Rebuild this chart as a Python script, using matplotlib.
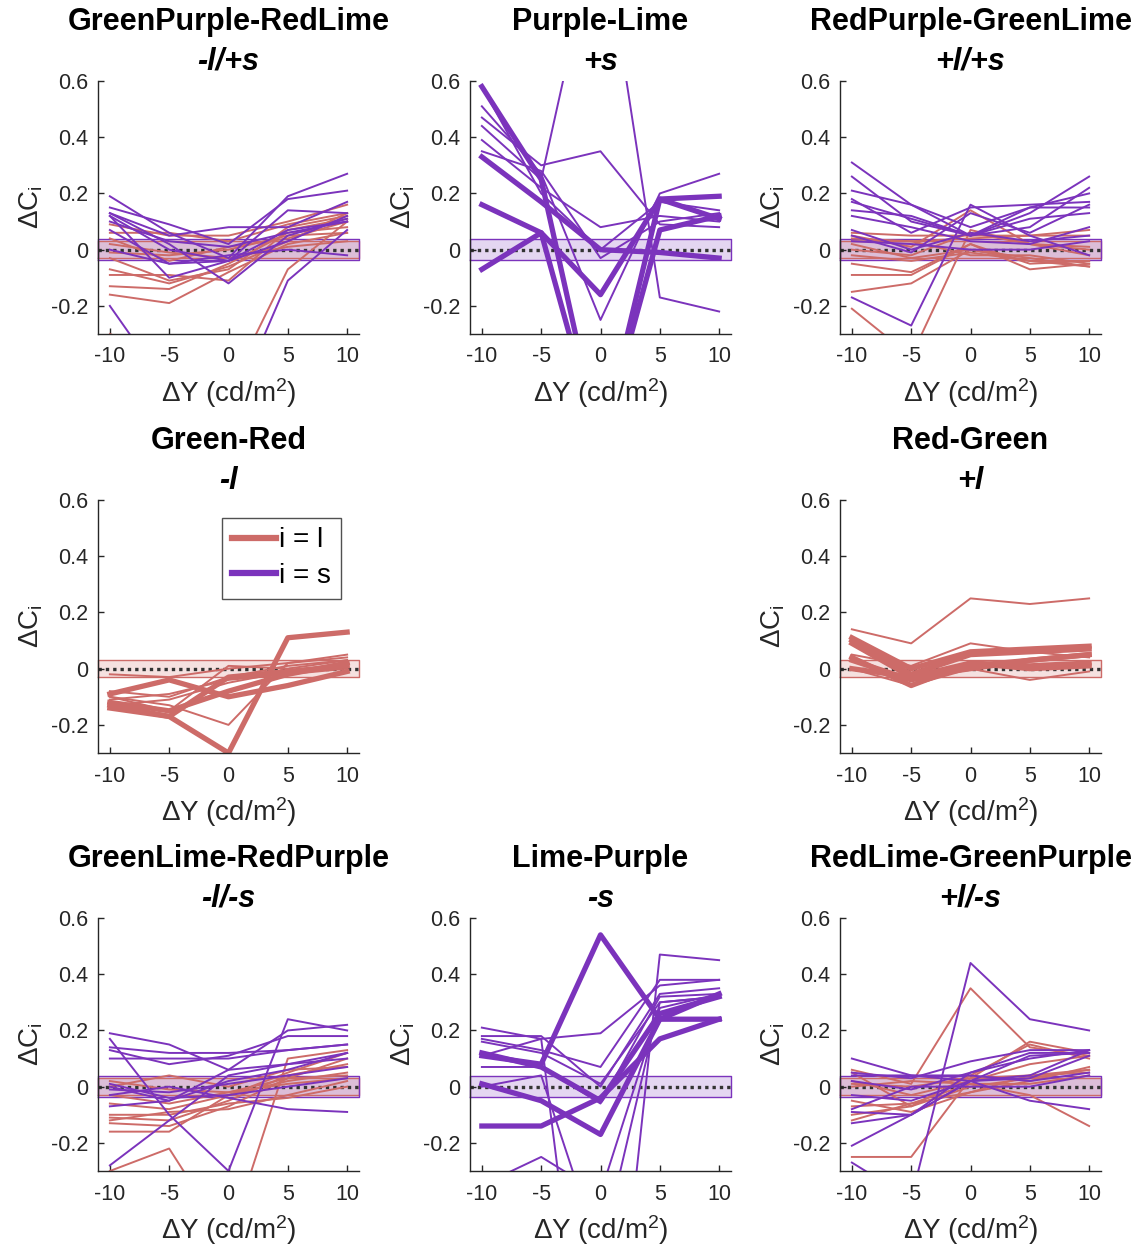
import numpy as np
import matplotlib
matplotlib.use("Agg")
import matplotlib.pyplot as plt

plt.rcParams['font.family'] = ['Liberation Sans', 'DejaVu Sans']
plt.rcParams['mathtext.fontset'] = 'custom'
plt.rcParams['mathtext.rm'] = 'Liberation Sans'
plt.rcParams['mathtext.it'] = 'Liberation Sans:italic'
plt.rcParams['axes.unicode_minus'] = False

# luminance steps
dY = [-10, -5, 0, 5, 10]
yticks = [-0.2, 0, 0.2, 0.4, 0.6]
ytick_labels = ['-0.2', '0', '0.2', '0.4', '0.6']

titles = ['GreenPurple-RedLime', 'Purple-Lime', 'RedPurple-GreenLime',
          'Green-Red', None, 'Red-Green',
          'GreenLime-RedPurple', 'Lime-Purple', 'RedLime-GreenPurple']
subtitles = ['-l/+s', '+s', '+l/+s', '-l', None, '+l', '-l/-s', '-s', '+l/-s']

# ---- panel data: thin / thick lines, l (red) and s (purple) ----
# GreenPurple-RedLime
p1_s_thin = [[0.19, 0.06, -0.03, 0.19, 0.27], [0.15, 0.09, 0.02, 0.18, 0.21],
             [0.13, 0.05, 0.08, 0.08, 0.17], [0.12, -0.10, -0.04, 0.14, 0.13],
             [0.13, 0.02, -0.12, 0.05, 0.11], [0.07, -0.05, -0.04, 0.07, 0.10],
             [0.00, -0.05, -0.02, 0.00, -0.02], [-0.20, -0.50, -0.60, -0.11, 0.07],
             [0.12, 0.00, -0.04, 0.03, 0.12], [0.10, 0.03, 0.01, 0.06, 0.10]]
p1_l_thin = [[0.09, 0.05, 0.05, 0.10, 0.16], [0.06, 0.06, 0.03, 0.09, 0.13],
             [-0.03, -0.11, -0.07, 0.08, 0.12], [-0.07, -0.12, -0.06, 0.03, 0.13],
             [-0.09, -0.09, -0.11, 0.07, 0.11], [-0.13, -0.14, -0.05, 0.06, 0.08],
             [-0.16, -0.19, -0.08, 0.02, 0.06], [-0.30, -0.38, -0.50, -0.07, 0.10],
             [0.02, -0.01, -0.03, 0.01, 0.03], [-0.01, -0.02, 0.00, 0.05, 0.06],
             [0.04, -0.04, 0.01, 0.04, 0.10]]

# Purple-Lime
p2_s_thin = [[0.51, 0.27, -0.25, 0.20, 0.27], [0.47, 0.30, 0.35, 0.09, 0.08],
             [0.44, 0.25, 1.20, -0.17, -0.22], [0.39, 0.22, 0.08, 0.12, 0.10],
             [0.35, 0.28, -0.03, 0.10, 0.13], [0.58, 0.20, 0.00, 0.17, 0.14]]
p2_s_thick = [[0.33, 0.17, 0.00, -0.01, -0.03], [0.16, 0.06, -0.16, 0.18, 0.19],
              [-0.07, 0.06, -0.70, 0.07, 0.12], [0.58, 0.25, -0.70, 0.18, 0.11]]

# RedPurple-GreenLime
p3_s_thin = [[0.31, 0.16, 0.05, 0.13, 0.26], [0.26, 0.10, 0.05, 0.08, 0.22],
             [0.21, 0.16, 0.08, 0.15, 0.20], [0.18, 0.06, 0.15, 0.16, 0.17],
             [0.17, 0.11, 0.05, 0.15, 0.15], [0.14, 0.12, 0.05, 0.11, 0.13],
             [0.12, 0.08, 0.03, 0.02, 0.08], [0.07, 0.00, 0.06, 0.03, 0.05],
             [-0.17, -0.27, 0.16, 0.05, -0.02], [0.03, 0.02, 0.00, 0.00, 0.03],
             [0.05, -0.01, 0.13, 0.06, 0.16]]
p3_l_thin = [[0.05, 0.01, 0.14, 0.02, -0.02], [-0.21, -0.38, 0.07, 0.02, 0.01],
             [-0.15, -0.12, 0.00, -0.04, -0.06], [-0.09, -0.09, 0.02, -0.05, -0.04],
             [-0.05, -0.08, 0.02, -0.07, -0.05], [0.02, -0.03, 0.00, -0.03, -0.06],
             [0.04, 0.03, 0.04, 0.05, 0.07], [0.00, -0.02, 0.06, 0.02, 0.00],
             [-0.02, -0.04, -0.01, -0.04, -0.04], [0.06, 0.05, 0.05, 0.05, 0.05],
             [0.03, 0.03, -0.02, -0.02, -0.05]]

# Green-Red
p4_l_thin = [[-0.02, -0.03, 0.00, 0.02, 0.05], [-0.10, -0.13, -0.20, 0.02, 0.04],
             [-0.08, -0.10, -0.03, 0.01, 0.03], [-0.11, -0.09, -0.04, -0.02, 0.00],
             [-0.13, -0.11, -0.05, -0.01, 0.02], [-0.10, -0.15, 0.01, 0.00, 0.03]]
p4_l_thick = [[-0.13, -0.17, -0.30, 0.11, 0.13], [-0.09, -0.04, -0.10, -0.06, -0.01],
              [-0.14, -0.17, -0.03, -0.01, 0.01], [-0.12, -0.15, -0.08, -0.02, 0.02]]

# Red-Green
p6_l_thin = [[0.14, 0.09, 0.25, 0.23, 0.25], [0.05, 0.01, 0.09, 0.06, 0.04],
             [0.00, -0.06, 0.00, -0.04, -0.01]]
p6_l_thick = [[0.11, 0.00, 0.06, 0.07, 0.08], [0.10, -0.02, 0.05, 0.06, 0.07],
              [0.09, -0.03, 0.00, 0.03, 0.05], [0.04, -0.06, 0.02, 0.00, 0.01],
              [0.03, -0.04, 0.01, 0.03, 0.05], [0.00, -0.03, 0.02, 0.01, 0.02]]

# GreenLime-RedPurple
p7_s_thin = [[0.19, 0.15, 0.06, 0.20, 0.22], [0.17, -0.10, -0.30, 0.24, 0.20],
             [0.14, 0.12, 0.12, 0.13, 0.15], [0.13, 0.08, 0.11, 0.18, 0.18],
             [0.10, 0.10, 0.10, 0.13, 0.15], [0.00, -0.05, 0.06, 0.08, 0.12],
             [-0.01, -0.02, 0.01, 0.04, 0.07], [-0.03, 0.00, -0.04, -0.08, -0.09],
             [-0.07, -0.05, 0.02, 0.06, 0.12], [-0.28, -0.12, 0.04, 0.08, 0.10],
             [0.01, -0.04, -0.03, 0.00, 0.03]]
p7_l_thin = [[-0.30, -0.22, -0.55, 0.10, 0.13], [-0.16, -0.16, -0.03, 0.05, 0.12],
             [-0.13, -0.14, -0.07, 0.03, 0.10], [-0.11, -0.12, -0.05, 0.04, 0.08],
             [-0.10, -0.10, -0.06, -0.04, 0.00], [-0.06, -0.08, -0.03, 0.02, 0.05],
             [0.00, 0.04, 0.00, 0.06, 0.07], [-0.03, -0.06, -0.02, 0.01, 0.03],
             [0.02, -0.01, -0.02, 0.03, 0.04], [-0.12, -0.09, -0.08, -0.03, 0.02]]

# Lime-Purple
p8_s_thin = [[0.21, 0.17, 0.19, 0.36, 0.38], [0.18, 0.18, 0.00, 0.33, 0.35],
             [0.17, 0.13, 0.07, 0.38, 0.38], [0.16, 0.12, 0.01, 0.30, 0.32],
             [0.07, 0.07, -0.06, 0.32, 0.33], [0.11, 0.17, -1.50, 0.47, 0.45],
             [-0.35, -0.25, -0.38, 0.28, 0.33], [0.00, 0.04, -0.60, 0.30, 0.32]]
p8_s_thick = [[0.01, -0.05, -0.17, 0.24, 0.24], [-0.14, -0.14, -0.04, 0.17, 0.24],
              [0.11, 0.08, 0.54, 0.24, 0.33], [0.12, 0.07, -0.05, 0.26, 0.32]]

# RedLime-GreenPurple
p9_s_thin = [[0.10, 0.04, 0.02, -0.05, -0.08], [0.05, 0.03, 0.09, 0.13, 0.13],
             [0.02, -0.01, 0.05, 0.12, 0.12], [-0.03, -0.05, 0.02, 0.11, 0.12],
             [-0.09, -0.10, 0.02, 0.03, 0.11], [-0.13, -0.10, 0.05, 0.10, 0.13],
             [-0.21, -0.10, 0.02, 0.04, 0.13], [-0.27, -0.40, 0.44, 0.24, 0.20],
             [0.04, 0.04, 0.04, 0.02, 0.05], [-0.08, 0.00, 0.00, 0.00, 0.04]]
p9_l_thin = [[0.06, 0.01, 0.35, 0.14, 0.11], [-0.25, -0.25, 0.03, 0.16, 0.12],
             [0.05, -0.07, 0.04, 0.15, 0.10], [0.02, -0.03, 0.02, 0.08, 0.11],
             [-0.10, -0.07, 0.00, 0.03, 0.06], [-0.12, -0.06, -0.02, 0.04, 0.05],
             [0.00, 0.02, 0.01, -0.03, -0.14], [-0.07, -0.06, 0.01, 0.01, 0.04],
             [-0.05, -0.09, -0.02, 0.02, 0.07], [0.01, 0.00, 0.03, 0.04, 0.06]]

panels = [
    dict(l_thin=p1_l_thin, s_thin=p1_s_thin, bands='ls'),
    dict(s_thin=p2_s_thin, s_thick=p2_s_thick, bands='s'),
    dict(l_thin=p3_l_thin, s_thin=p3_s_thin, bands='ls'),
    dict(l_thin=p4_l_thin, l_thick=p4_l_thick, bands='l'),
    None,
    dict(l_thin=p6_l_thin, l_thick=p6_l_thick, bands='l'),
    dict(l_thin=p7_l_thin, s_thin=p7_s_thin, bands='ls'),
    dict(s_thin=p8_s_thin, s_thick=p8_s_thick, bands='s'),
    dict(l_thin=p9_l_thin, s_thin=p9_s_thin, bands='ls'),
]

red = '#CD6B68'
purple = '#7B33BC'
band_half = {'l': 0.03, 's': 0.037}
col = {'l': red, 's': purple}
dark = '#262626'

fig = plt.figure(figsize=(11.41, 12.49), dpi=100)
W, H = 1141, 1249
lefts = [98, 470, 840]
tops = [81, 500, 918]
aw, ah = 261, 253

for k, p in enumerate(panels):
    if p is None:
        continue
    r, c = divmod(k, 3)
    ax = fig.add_axes([lefts[c] / W, 1 - (tops[r] + ah) / H, aw / W, ah / H])
    xlim = (-11, 11)

    for b in p['bands']:
        ax.fill_between(xlim, -band_half[b], band_half[b], facecolor=col[b],
                        alpha=0.2, edgecolor='none', zorder=1)
        ax.plot([xlim[0], xlim[1], xlim[1], xlim[0], xlim[0]],
                [-band_half[b], -band_half[b], band_half[b], band_half[b], -band_half[b]],
                color=col[b], lw=1.0, zorder=1.2, clip_on=False)
    ax.plot(xlim, [0, 0], ls=(0, (1, 1.2)), color='#333333', lw=2.4, zorder=1.5)

    for key in ['l_thin', 's_thin', 'l_thick', 's_thick']:
        if key not in p:
            continue
        lw = 3.8 if 'thick' in key else 1.4
        for ys in p[key]:
            ax.plot(dY, ys, color=col[key[0]], lw=lw, zorder=2)

    ax.set_xlim(xlim)
    ax.set_ylim(-0.3, 0.6)
    ax.set_xticks(dY)
    ax.set_xticklabels([str(v) for v in dY])
    ax.set_yticks(yticks)
    ax.set_yticklabels(ytick_labels)
    for s in ['top', 'right']:
        ax.spines[s].set_visible(False)
    for s in ['left', 'bottom']:
        ax.spines[s].set_color(dark)
        ax.spines[s].set_linewidth(1.0)
    ax.tick_params(direction='in', length=4, width=1.0, colors=dark,
                   labelsize=15.5)
    ax.tick_params(axis='x', pad=9)
    ax.tick_params(axis='y', pad=7)
    ax.set_xlabel('ΔY (cd/m$^{2}$)', fontsize=20, color=dark, labelpad=6)
    ax.set_ylabel('ΔC$_{\\mathrm{i}}$', fontsize=20, color=dark, labelpad=4)

    ax.text(0.5, 1 + 59 / ah, titles[k], transform=ax.transAxes, ha='center',
            va='center', fontsize=22, fontweight='bold')
    ax.text(0.5, 1 + 19 / ah, subtitles[k], transform=ax.transAxes, ha='center',
            va='center', fontsize=22, fontweight='bold', style='italic')

    if k == 3:
        h1, = ax.plot([], [], color=red, lw=4.5)
        h2, = ax.plot([], [], color=purple, lw=4.5)
        leg = ax.legend([h1, h2], ['i = l', 'i = s'], loc='upper right',
                        bbox_to_anchor=(0.93, 0.93), fontsize=20, frameon=True,
                        fancybox=False, edgecolor=dark, handlelength=1.6,
                        handletextpad=0.1, borderpad=0.35, labelspacing=0.35,
                        borderaxespad=0)
        leg.get_frame().set_linewidth(1.0)

fig.savefig('out.png', dpi=100, facecolor='white')
